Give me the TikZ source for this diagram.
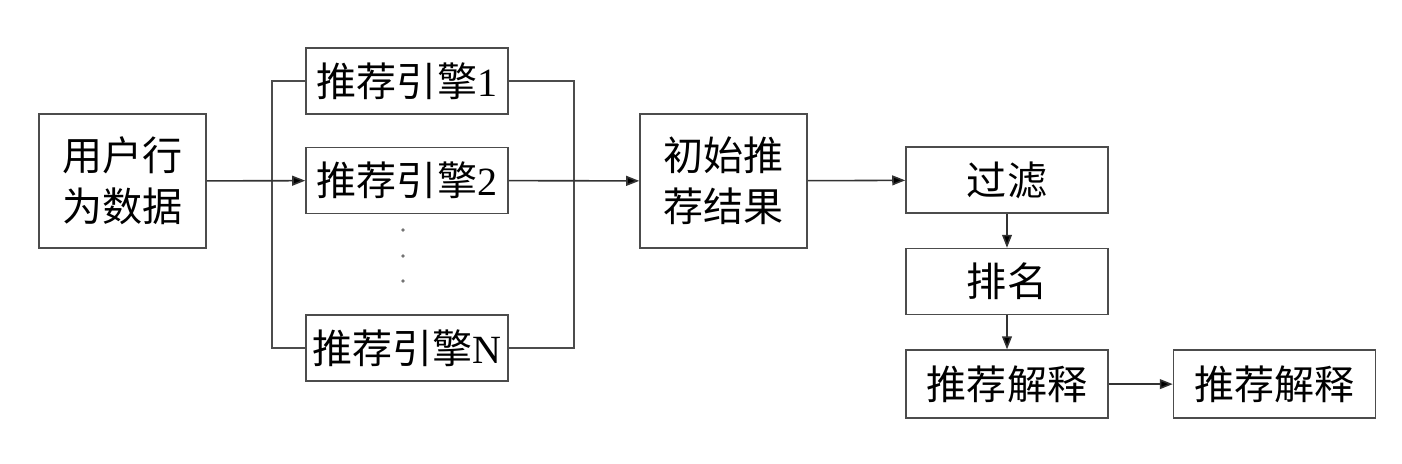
\documentclass[tikz,border=0pt]{standalone}
\usepackage{fontspec}
\setmainfont{Liberation Serif}
\newfontfamily\cjk{Noto Sans CJK SC}
\usetikzlibrary{arrows.meta,positioning,calc}

\begin{document}
\begin{tikzpicture}[x=0.02cm,y=-0.02cm,line width=0.9pt,
   box/.style={draw=black!70, rectangle, inner sep=0pt, minimum width=4.04cm, minimum height=1.32cm, font=\fontsize{22.8}{29}\selectfont\cjk, align=center},
   bigbox/.style={box, minimum width=3.34cm, minimum height=2.68cm},
   ->/.style={-{Triangle[length=7.4pt,width=5.6pt]}, draw=black!80}]

   \useasboundingbox (0,0) rectangle (1402,463);

   \node[bigbox] (data) at (122.5,181) {用户行\\为数据};
   \node[box] (eng1) at (407,81) {推荐引擎{\rmfamily 1}};
   \node[box] (eng2) at (407,180.5) {推荐引擎{\rmfamily 2}};
   \node[box] (engN) at (407,348) {推荐引擎{\rmfamily N}};
   \node[bigbox] (init) at (723.5,181) {初始推\\荐结果};
   \node[box] (filter) at (1007,180) {过滤};
   \node[box] (rank) [below=0.68cm of filter] {排名};
   \node[box] (explain) [below=0.68cm of rank, minimum height=1.36cm] {推荐解释};
   \node[box] (result) [right=1.28cm of explain, minimum height=1.36cm] {推荐解释};

   \foreach \y in {230,256,281}
      \fill[black!55] (403,\y) circle (1.1pt);

   \draw[black!70] (eng1.west) -- ++(-33,0) |- (engN.west);
   \draw[black!70] (eng1.east) -- ++(65,0) |- (engN.east);

   \path[->] (data) edge (eng2)
   (eng2) edge (init)
   (init) edge (filter)
   (filter) edge (rank)
   (rank) edge (explain)
   (explain) edge (result);

\end{tikzpicture}
\end{document}
